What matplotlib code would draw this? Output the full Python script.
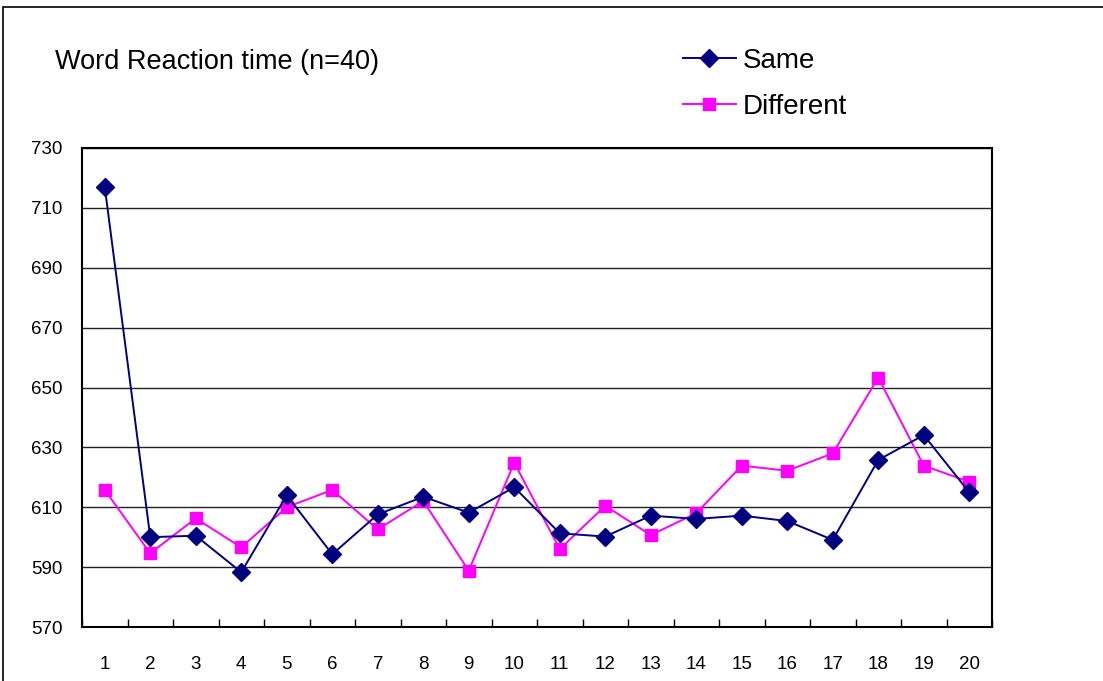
import matplotlib.pyplot as plt
import numpy as np

plt.rcParams['font.family'] = ['Liberation Sans', 'DejaVu Sans']

trials = np.arange(1, 21)
same = [717, 600, 600.5, 588.3, 614, 594.3, 607.6, 613.5, 608.2, 616.7,
        601.3, 600.2, 607.2, 606.1, 607.2, 605.4, 599.1, 625.8, 634.1, 615]
different = [615.8, 594.6, 606.3, 596.6, 610, 615.8, 602.6, 612.1, 588.8, 624.9,
             596, 610.5, 600.7, 608, 623.9, 622.2, 628, 653.3, 623.9, 618.5]
yticks = [570, 590, 610, 630, 650, 670, 690, 710, 730]

fig = plt.figure(figsize=(11.03, 6.81), dpi=100)
# outer chart border
fig.add_artist(plt.Rectangle((3 / 1103, -0.1), 1.2, 1 - 7 / 681 + 0.1,
                             transform=fig.transFigure, fill=False,
                             edgecolor='black', linewidth=1.2))

ax = fig.add_axes([82 / 1103, 54 / 681, 910 / 1103, 479 / 681])
l1, = ax.plot(trials, same, color='#000080', marker='D', markersize=9,
              linewidth=1.4, label='Same', zorder=3)
l2, = ax.plot(trials, different, color='#FF00FF', marker='s', markersize=9,
              linewidth=1.4, label='Different', zorder=2)

ax.set_xlim(0.5, 20.5)
ax.set_ylim(570, 730)
ax.set_yticks(yticks)
ax.yaxis.grid(True, color='#222222', linewidth=1)
ax.set_axisbelow(True)
ax.tick_params(axis='y', length=0, labelsize=13.5, pad=14)

ax.set_xticks(np.arange(0.5, 21, 1))
ax.set_xticklabels([])
ax.tick_params(axis='x', which='major', direction='in', length=6, width=1)
ax.set_xticks(trials, minor=True)
ax.set_xticklabels([str(t) for t in trials], minor=True)
ax.tick_params(axis='x', which='minor', length=0, labelsize=13.5, pad=21)

for s in ax.spines.values():
    s.set_linewidth(1.5)

fig.text(55 / 1103, 1 - 62 / 681, 'Word Reaction time (n=40)', fontsize=19.5,
         va='center', ha='left')

fig.legend(handles=[l1, l2], loc='center left',
           bbox_to_anchor=(683 / 1103, 1 - 84 / 681), frameon=False,
           fontsize=20, handlelength=1.9, labelspacing=0.72,
           handletextpad=0.25, borderpad=0, borderaxespad=0)

fig.savefig('out.png', dpi=100)
